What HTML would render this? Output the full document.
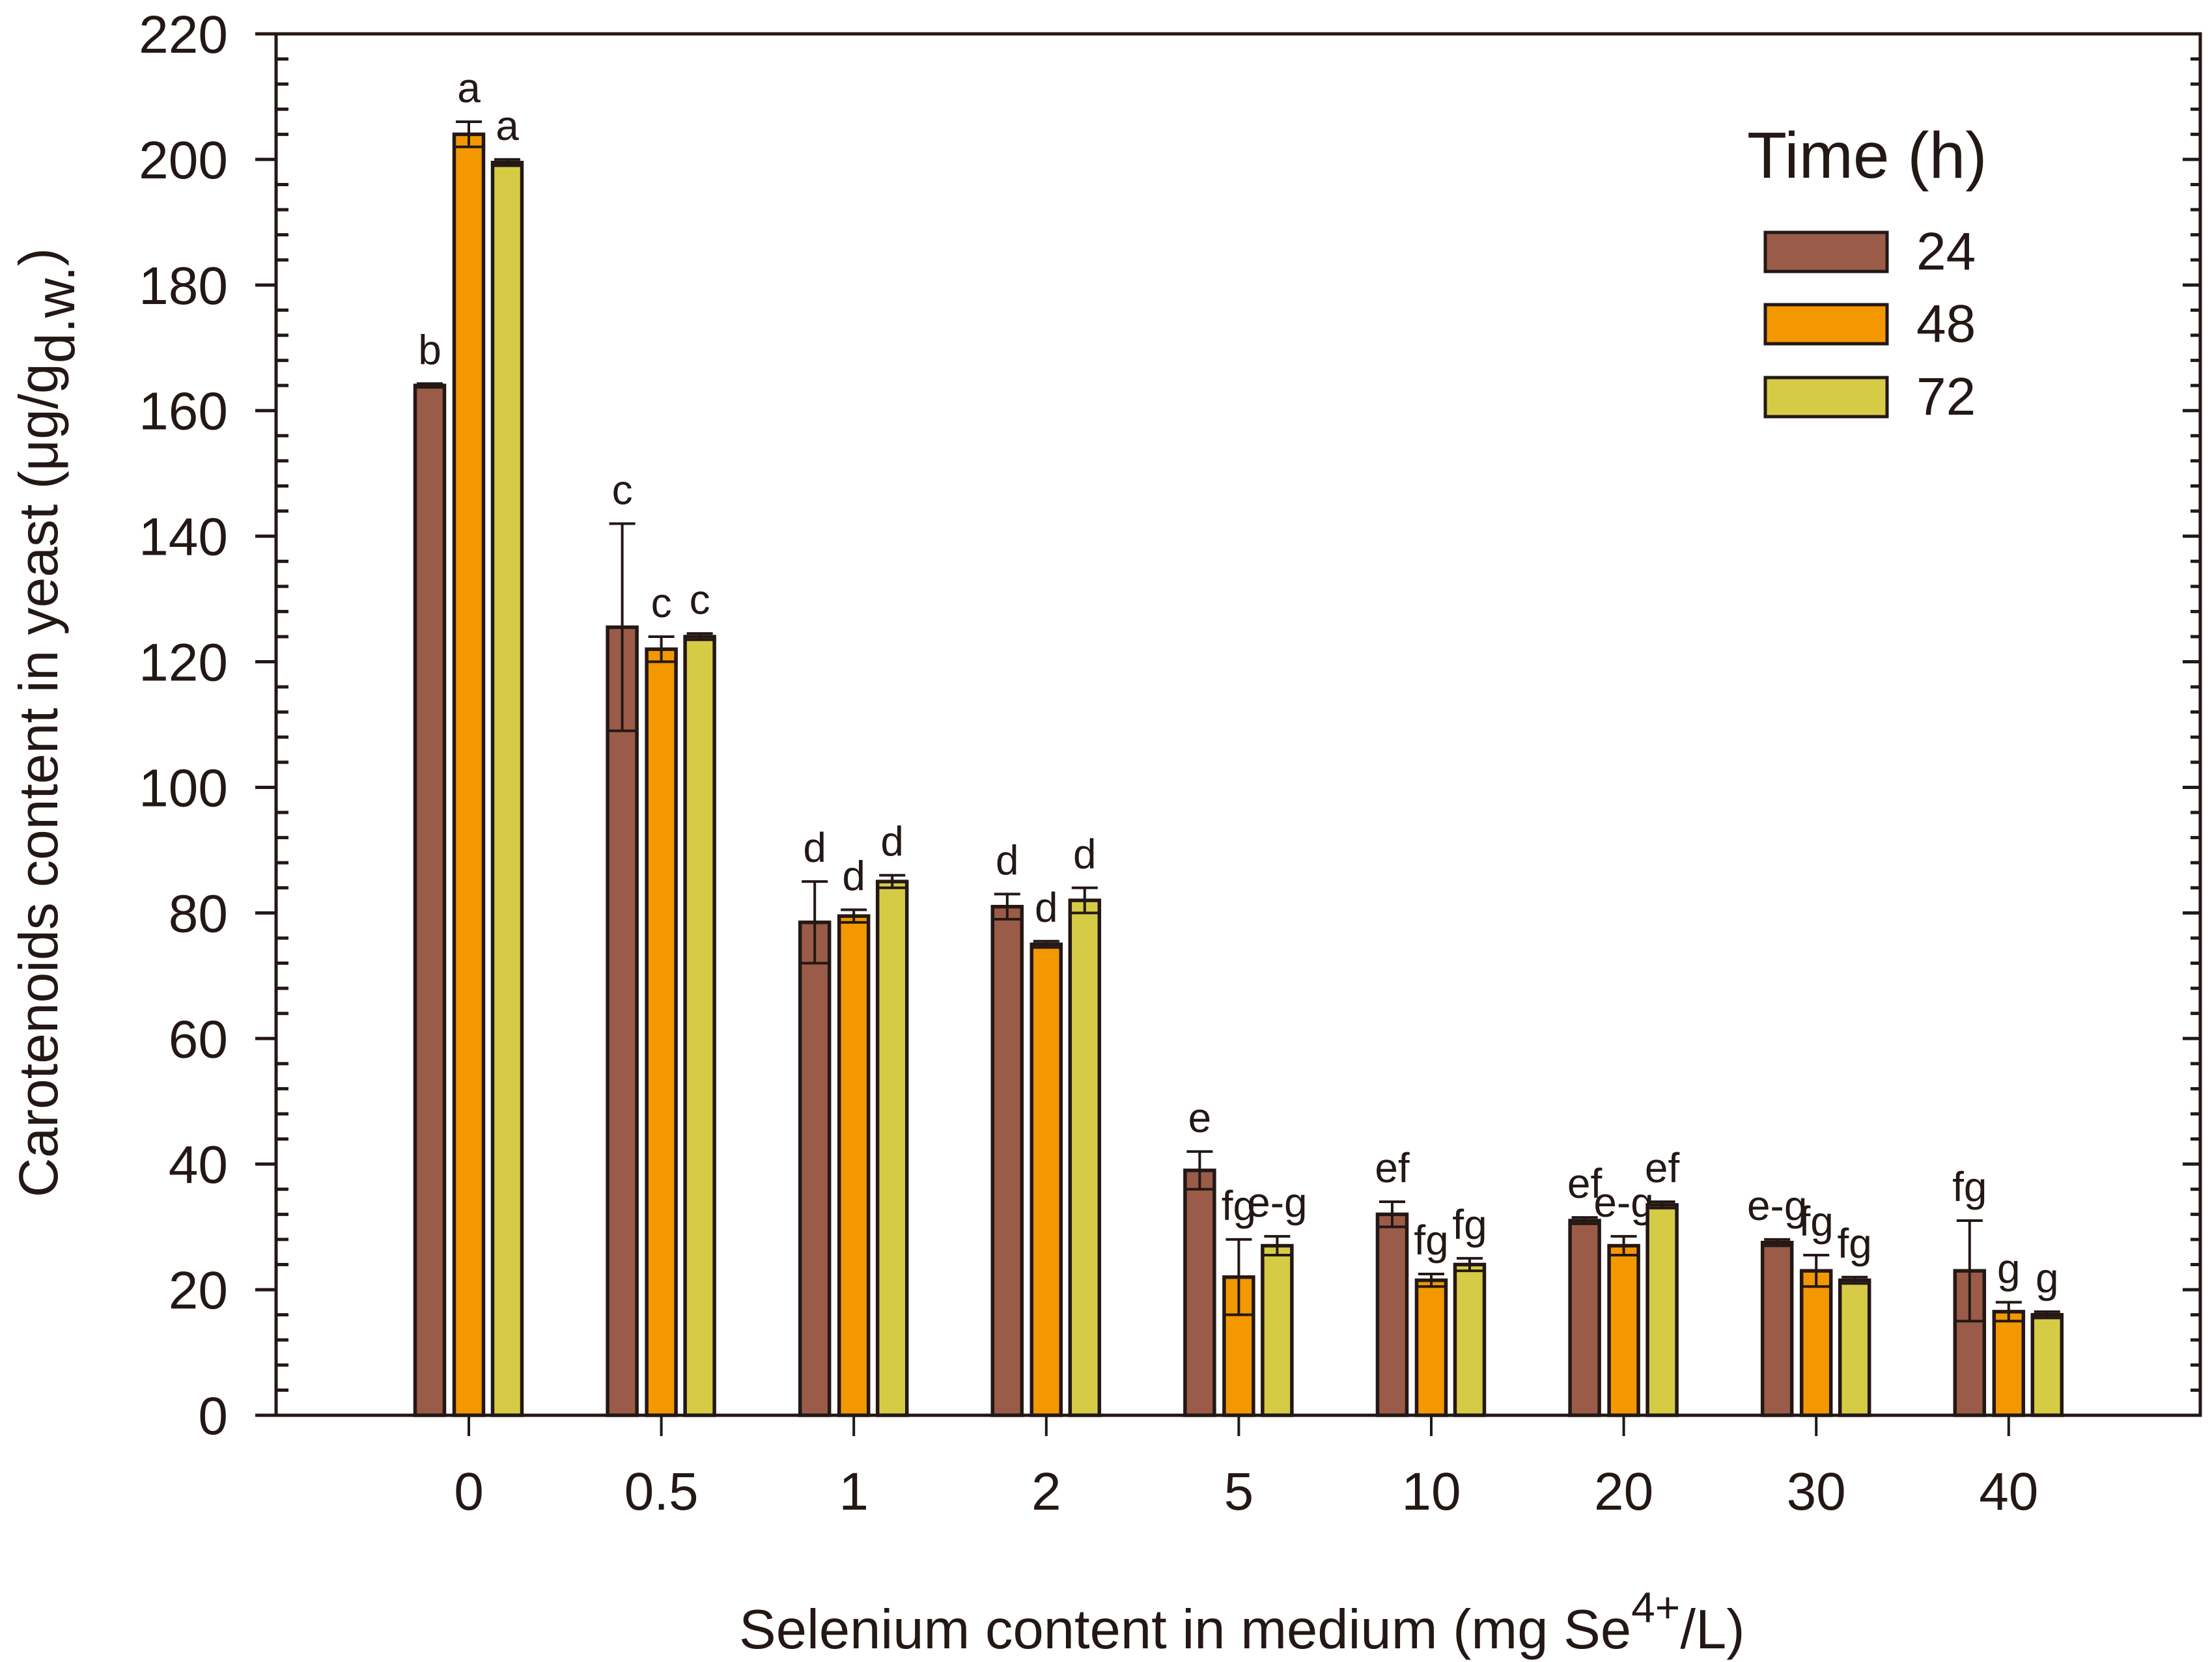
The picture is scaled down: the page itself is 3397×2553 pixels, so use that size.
<!DOCTYPE html>
<html><head><meta charset="utf-8"><style>
html,body{margin:0;padding:0;background:#fff;}
svg{display:block;font-family:"Liberation Sans",Arial,sans-serif;}
</style></head><body>
<svg id="chart" xmlns="http://www.w3.org/2000/svg" width="3397" height="2553" viewBox="0 0 3397 2553">
<g id="axes"></g>
<g id="bars"></g>
<g id="legend">
<text x="2683" y="273" font-size="100" fill="#231815">Time (h)</text>
<rect x="2711" y="357" width="187" height="60" fill="#9A5C48" stroke="#231815" stroke-width="5"/>
<text x="2943" y="414" font-size="82" fill="#231815">24</text>
<rect x="2711" y="468" width="187" height="60" fill="#F39800" stroke="#231815" stroke-width="5"/>
<text x="2943" y="525" font-size="82" fill="#231815">48</text>
<rect x="2711" y="580" width="187" height="60" fill="#D6CB45" stroke="#231815" stroke-width="5"/>
<text x="2943" y="637" font-size="82" fill="#231815">72</text>
</g>
<text x="1135" y="2532" font-size="85" fill="#231815">Selenium content in medium (mg Se<tspan dy="-40" font-size="66">4+</tspan><tspan dy="40">/L)</tspan></text>
<text transform="translate(88,1110) rotate(-90)" text-anchor="middle" font-size="84" fill="#231815">Carotenoids content in yeast (μg/g<tspan dy="26">d.w.</tspan><tspan dy="-26">)</tspan></text>
</svg>
<script>
const categories = ["0","0.5","1","2","5","10","20","30","40"];
const series24 = [164, 125.5, 78.5, 81, 39, 32, 31, 27.5, 23];
const series48 = [204, 122, 79.5, 75, 22, 21.5, 27, 23, 16.5];
const series72 = [199.5, 124, 85, 82, 27, 24, 33.5, 21.5, 16];
const err24 = [0.3, 16.5, 6.5, 2, 3, 2, 0.5, 0.5, 8];
const err48 = [2, 2, 1, 0.5, 6, 1, 1.5, 2.5, 1.5];
const err72 = [0.5, 0.5, 1, 2, 1.5, 1, 0.5, 0.5, 0.5];
const letters24 = ["b","c","d","d","e","ef","ef","e-g","fg"];
const letters48 = ["a","c","d","d","fg","fg","e-g","fg","g"];
const letters72 = ["a","c","d","d","e-g","fg","ef","fg","g"];
const yTicks = [0,20,40,60,80,100,120,140,160,180,200,220];

const NS = "http://www.w3.org/2000/svg";
const X0 = 720, STEP = 295.6, LEFT = 424, RIGHT = 3379, TOP = 52, BASE = 2174;
const yScale = v => BASE - v * (BASE - TOP) / 220;
const xScale = i => X0 + i * STEP;
const INK = "#231815";
function mk(tag, attrs, parent) {
  const e = document.createElementNS(NS, tag);
  for (const k in attrs) e.setAttribute(k, attrs[k]);
  parent.appendChild(e);
  return e;
}
const axes = document.getElementById('axes');
const bars = document.getElementById('bars');

let fr = mk('path', {d:`M392 ${TOP} H${RIGHT} V${BASE} H392 M${LEFT} ${TOP} V${BASE}`, stroke:INK, 'stroke-width':5, fill:'none'}, axes);



for (let v = 0; v <= 220; v += 4) {
  const y = yScale(v);
  const major = v % 20 === 0;
  let t = mk('line', major ? {x1:392, x2:LEFT, y1:y, y2:y} : {x1:LEFT, x2:LEFT+19, y1:y, y2:y}, axes);
  t.setAttribute('stroke', INK); t.setAttribute('stroke-width', 5);
  
  
  let r = mk('line', {x1: RIGHT - (major ? 27 : 15), x2: RIGHT, y1:y, y2:y, stroke:INK, 'stroke-width':5}, axes);
  
  
}
yTicks.forEach(v => {
  let t = mk('text', {x:350, y:yScale(v)+29, 'text-anchor':'end', 'font-size':82, fill:INK}, axes);
  t.textContent = v;
  
  
});
categories.forEach((c, i) => {
  const x = xScale(i);
  let t = mk('line', {x1:x, x2:x, y1:BASE, y2:BASE+32, stroke:INK, 'stroke-width':4}, axes);
  
  
  let l = mk('text', {x:x, y:2319, 'text-anchor':'middle', 'font-size':82, fill:INK}, axes);
  l.textContent = c;
  
  
});
const groups = [
  {vals:series24, errs:err24, lets:letters24, color:"#9A5C48", off:-60, name:"24h"},
  {vals:series48, errs:err48, lets:letters48, color:"#F39800", off:0, name:"48h"},
  {vals:series72, errs:err72, lets:letters72, color:"#D6CB45", off:59, name:"72h"}
];
const BW = 45;
groups.forEach(g => {
  g.vals.forEach((v, i) => {
    const cx = xScale(i) + g.off;
    const yT = yScale(v);
    let b = mk('rect', {x:cx-BW/2, y:yT, width:BW, height:BASE-yT, fill:g.color, stroke:INK, 'stroke-width':5.5}, bars);
    
    
    const e = g.errs[i];
    const y1 = yScale(v + e), y2 = yScale(v - e);
    let eb = mk('path', {d:`M${cx} ${y1} V${y2} M${cx-20} ${y1} H${cx+20} M${cx-20} ${y2} H${cx+20}`, stroke:INK, 'stroke-width':4, fill:'none'}, bars);
    
    
    let lt = mk('text', {x:cx, y:y1-30, 'text-anchor':'middle', 'font-size':64, fill:INK}, bars);
    lt.textContent = g.lets[i];
    
    
  });
});
</script>
</body></html>
